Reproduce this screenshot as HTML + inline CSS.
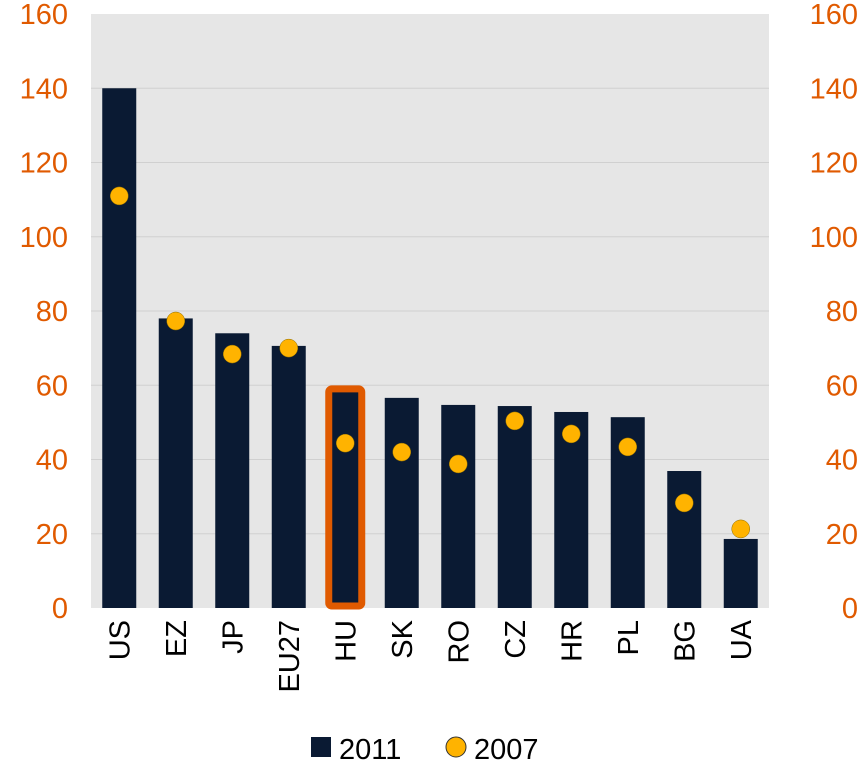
<!DOCTYPE html>
<html><head><meta charset="utf-8"><style>
body{margin:0;background:#fff;}
svg text{font-family:"Liberation Sans",sans-serif;}
</style></head><body>
<svg id="chart" width="862" height="761" xmlns="http://www.w3.org/2000/svg">
<rect x="91" y="14" width="678" height="594" fill="#e6e6e6"/>
<g id="grid"></g><g id="bars"></g><g id="dots"></g><g id="axes"></g>
<g>
<rect x="311" y="737" width="20" height="20" fill="#0a1a33"/>
<text x="339" y="759" font-size="29" fill="#000">2011</text>
<circle cx="456" cy="747" r="10" fill="#ffb300" stroke="#333" stroke-width="1"/>
<text x="474" y="759" font-size="29" fill="#000">2007</text>
</g>
</svg>
<script>
const categories=["US","EZ","JP","EU27","HU","SK","RO","CZ","HR","PL","BG","UA"];
const values2011=[140,78,74,70.6,58.2,56.6,54.7,54.4,52.8,51.4,36.9,18.6];
const values2007=[111,77.3,68.4,70,44.4,42,38.8,50.4,46.9,43.4,28.3,21.3];
const ticks=[0,20,40,60,80,100,120,140,160];
const highlight="HU";
const NS="http://www.w3.org/2000/svg";
const x0=91,x1=769,y0=608,y1=14,ymax=160;
const band=(x1-x0)/categories.length;
const y=v=>y0-(v/ymax)*(y0-y1);
const xc=i=>x0+band*(i+0.5);
function mk(t,a,p){const e=document.createElementNS(NS,t);for(const k in a)e.setAttribute(k,a[k]);p.appendChild(e);return e;}
const grid=document.getElementById('grid'),axes=document.getElementById('axes');
ticks.forEach(t=>{
  if(t>0&&t<ymax){const l=mk('line',{x1:x0,x2:x1,y1:y(t),y2:y(t),stroke:'#d0d0d0','stroke-width':1},grid);
  
  }
  const a=mk('text',{x:x0-23,y:y(t)+10,'font-size':29,fill:'#e05a00','text-anchor':'end'},axes);a.textContent=t;
  
  
  const b=mk('text',{x:858,y:y(t)+10,'font-size':29,fill:'#e05a00','text-anchor':'end'},axes);b.textContent=t;
  
  
});
const bars=document.getElementById('bars'),dots=document.getElementById('dots');
categories.forEach((c,i)=>{
  const cx=xc(i),bw=34;
  if(c===highlight){
    const r=mk('rect',{x:cx-16.5,y:y(values2011[i])-3,width:33,height:y0-2-(y(values2011[i])-3),fill:'#0a1a33',stroke:'#e05a00','stroke-width':7,rx:3},bars);
    
    
  }else{
    const r=mk('rect',{x:cx-bw/2,y:y(values2011[i]),width:bw,height:y0-y(values2011[i]),fill:'#0a1a33'},bars);
    
    
  }
  const d=mk('circle',{cx:cx,cy:y(values2007[i]),r:9,fill:'#ffb300',stroke:'#8a6a00','stroke-width':0.5},dots);
  
  
  const t=mk('text',{transform:`translate(${cx+10},620) rotate(-90)`,'font-size':29,fill:'#000','text-anchor':'end'},axes);
  t.textContent=c;
  
  
});
</script>
</body></html>
